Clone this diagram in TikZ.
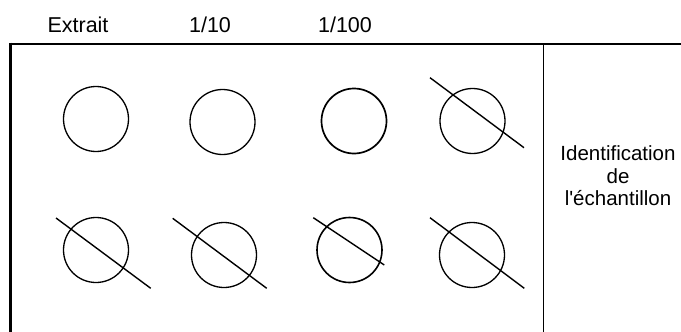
\documentclass[tikz,border=0pt]{standalone}
\usepackage{fontspec}
\setmainfont{Liberation Sans}
\begin{document}
\begin{tikzpicture}[x=1pt, y=-1pt,
    boite/.style={circle, draw, line width=1.3pt, minimum size=65pt, inner sep=0pt},
    barre/.style={line width=1.4pt},
    titre/.style={font=\fontsize{21.5}{24}\selectfont}]
    \useasboundingbox (0,0) rectangle (681,332);

    % Frame
    \draw[line width=2pt] (681,43.5) -- (10.5,43.5);
    \draw[line width=2.8pt] (10.5,42.5) -- (10.5,332);
    \draw[line width=1.2pt] (543.5,43.5) -- (543.5,332);

    % Column titles
    \node[titre] (extrait) at (78,25) {Extrait};
    \node[titre] (dix) at (210,25) {1/10};
    \node[titre] (cent) at (345,25) {1/100};

    % Top row
    \node[boite] (c1) at (96,119) {};
    \node[boite] (c2) at (222.5,122) {};
    \node[boite, line width=1.7pt] (c3) at (354,121) {};
    \node[boite] (c4) at (472.5,121) {};
    \draw[barre] (430,77.7) -- (524,147.7);

    % Bottom row
    \node[boite] (c5) at (96,250) {};
    \draw[barre] (56,218) -- (150.7,288.3);
    \node[boite] (c6) at (224,255) {};
    \draw[barre] (172.7,218.3) -- (266.7,288.3);
    \node[boite, line width=1.6pt] (c7) at (349.5,250) {};
    \draw[barre] (313.3,217.7) -- (384.3,265);
    \node[boite] (c8) at (472,255) {};
    \draw[barre] (430,217.7) -- (524.3,288.3);

    % Sample identification
    \node[align=center, font=\fontsize{20.5}{22.5}\selectfont] (ident) at (618,176)
        {Identification\\de\\l\textquotesingle échantillon};
\end{tikzpicture}
\end{document}
